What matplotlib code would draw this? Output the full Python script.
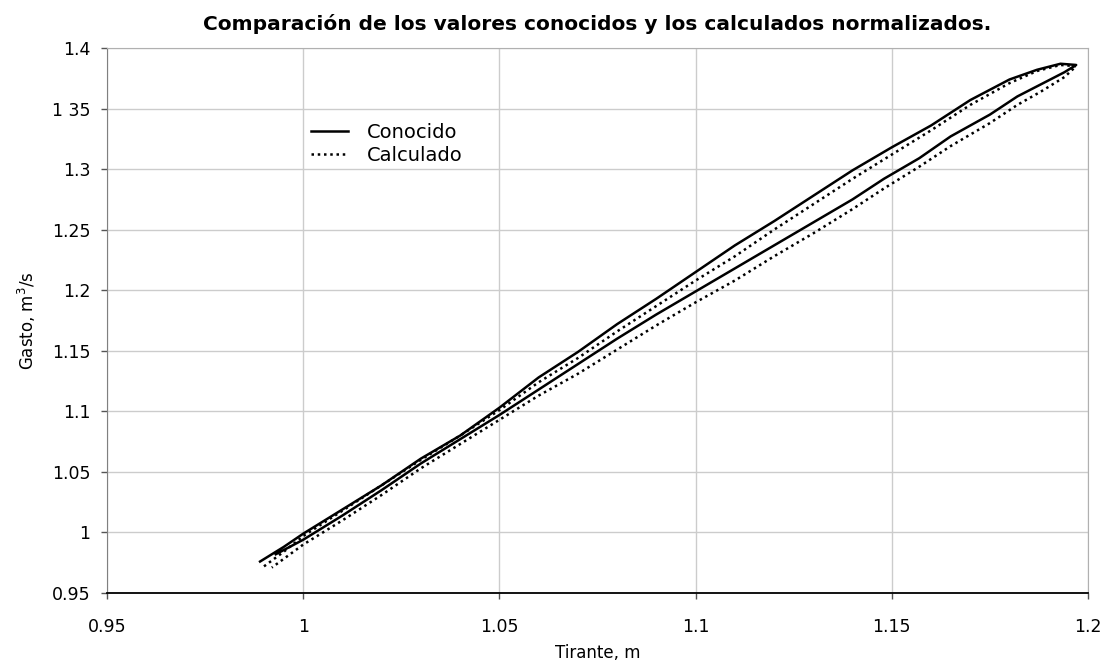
import matplotlib
matplotlib.use("Agg")
import matplotlib.pyplot as plt

plt.rcParams['font.family'] = ['DejaVu Sans']

# Known stage-discharge loop (rising limb then falling limb)
tirante_conocido = [0.989, 0.995, 1.000, 1.010, 1.020, 1.030, 1.040, 1.050, 1.060, 1.070,
                    1.080, 1.090, 1.100, 1.110, 1.120, 1.130, 1.140, 1.150, 1.160, 1.170,
                    1.180, 1.187, 1.193, 1.197,
                    1.194, 1.188, 1.182, 1.175, 1.165, 1.157, 1.148, 1.140, 1.130, 1.120,
                    1.110, 1.100, 1.090, 1.080, 1.070, 1.060, 1.050, 1.040, 1.030, 1.020,
                    1.010, 1.000, 0.993]
gasto_conocido = [0.976, 0.988, 0.999, 1.019, 1.039, 1.061, 1.080, 1.103, 1.128, 1.149,
                  1.172, 1.193, 1.215, 1.237, 1.257, 1.278, 1.299, 1.318, 1.336, 1.357,
                  1.374, 1.382, 1.387, 1.386,
                  1.380, 1.370, 1.360, 1.345, 1.327, 1.309, 1.292, 1.275, 1.256, 1.237,
                  1.218, 1.199, 1.180, 1.160, 1.139, 1.118, 1.097, 1.077, 1.057, 1.035,
                  1.014, 0.994, 0.982]

# Calculated normalized loop
tirante_calculado = [0.990, 0.995, 1.000, 1.010, 1.020, 1.030, 1.040, 1.050, 1.060, 1.070,
                     1.080, 1.090, 1.100, 1.110, 1.120, 1.130, 1.140, 1.150, 1.160, 1.170,
                     1.180, 1.187, 1.193, 1.197,
                     1.194, 1.188, 1.182, 1.175, 1.165, 1.157, 1.148, 1.140, 1.130, 1.120,
                     1.110, 1.100, 1.090, 1.080, 1.070, 1.060, 1.050, 1.040, 1.030, 1.020,
                     1.010, 1.000, 0.992]
gasto_calculado = [0.972, 0.984, 0.997, 1.018, 1.039, 1.060, 1.080, 1.101, 1.124, 1.144,
                   1.166, 1.187, 1.208, 1.228, 1.250, 1.271, 1.292, 1.312, 1.332, 1.353,
                   1.371, 1.381, 1.386, 1.385,
                   1.376, 1.364, 1.353, 1.338, 1.319, 1.302, 1.284, 1.267, 1.247, 1.228,
                   1.208, 1.190, 1.171, 1.151, 1.131, 1.113, 1.093, 1.073, 1.053, 1.031,
                   1.010, 0.990, 0.971]

x_ticks = [0.95, 1.0, 1.05, 1.1, 1.15, 1.2]
x_labels = ['0.95', '1', '1.05', '1.1', '1.15', '1.2']
y_ticks = [0.95, 1.0, 1.05, 1.1, 1.15, 1.2, 1.25, 1.3, 1.35, 1.4]
y_labels = ['0.95', '1', '1.05', '1.1', '1.15', '1.2', '1.25', '1.3', '1 35', '1.4']

fig = plt.figure(figsize=(11.07, 6.64), dpi=100)
ax = fig.add_axes([0.0967, 0.1069, 0.8861, 0.8208])

ax.plot(tirante_conocido, gasto_conocido, color='black', lw=1.8,
        solid_joinstyle='round', label='Conocido')
ax.plot(tirante_calculado, gasto_calculado, color='black', lw=1.8,
        linestyle=(0, (1.0, 1.5)), label='Calculado')

ax.set_xlim(0.95, 1.2)
ax.set_ylim(0.95, 1.4)
ax.set_xticks(x_ticks)
ax.set_xticklabels(x_labels)
ax.set_yticks(y_ticks)
ax.set_yticklabels(y_labels)
ax.grid(True, color='#cccccc', lw=1.0)
ax.set_axisbelow(True)

for side in ('top', 'right'):
    ax.spines[side].set_color('#b0b0b0')
ax.spines['left'].set_color('#808080')
ax.spines['bottom'].set_color('black')
ax.spines['bottom'].set_linewidth(1.3)

ax.tick_params(axis='both', labelsize=12.5, length=4, width=1, color='#555555')
ax.tick_params(axis='x', pad=14)
ax.tick_params(axis='y', pad=8)

ax.set_title('Comparación de los valores conocidos y los calculados normalizados.',
             fontsize=14.5, fontweight='bold', pad=13)
ax.set_xlabel('Tirante, m', fontsize=12, labelpad=6)
ax.set_ylabel('Gasto, m$^3$/s', fontsize=12, labelpad=10)

leg = ax.legend(loc='upper left', bbox_to_anchor=(0.19, 0.895), frameon=False,
                fontsize=14, handlelength=1.9, handletextpad=1.0, labelspacing=0.2)

fig.savefig('out.png', dpi=100)
